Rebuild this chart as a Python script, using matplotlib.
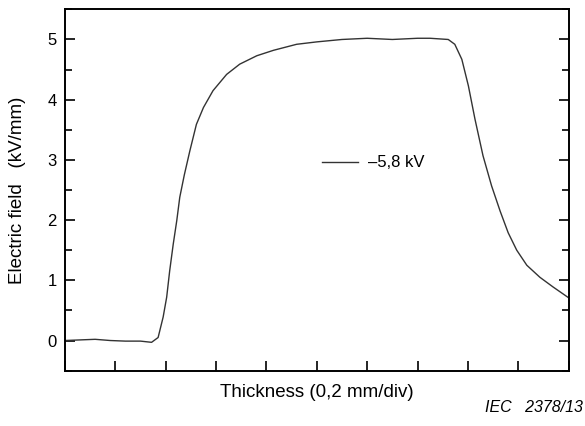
"""
Electric field profile across sample thickness
"""
import matplotlib
matplotlib.use("Agg")
import matplotlib.pyplot as plt
from matplotlib.ticker import MultipleLocator, NullFormatter

plt.rcParams['font.family'] = ['Liberation Sans', 'DejaVu Sans']

# thickness in divisions (0,2 mm/div)
thickness = [0, 0.3, 0.6, 0.9, 1.2, 1.5, 1.72, 1.85, 1.95, 2.02, 2.08, 2.15,
             2.22, 2.28, 2.37, 2.48, 2.61, 2.75, 2.94, 3.21, 3.47, 3.81, 4.14,
             4.6, 5.0, 5.5, 6.0, 6.5, 7.0, 7.25, 7.61, 7.74, 7.88, 8.01, 8.14,
             8.30, 8.47, 8.64, 8.80, 8.97, 9.17, 9.43, 9.69, 10.0]
# electric field (kV/mm)
field = [0.0, 0.01, 0.02, 0.0, -0.01, -0.01, -0.03, 0.05, 0.39, 0.72, 1.16,
         1.60, 1.99, 2.38, 2.75, 3.15, 3.59, 3.87, 4.15, 4.42, 4.59, 4.73,
         4.82, 4.92, 4.96, 5.0, 5.02, 5.0, 5.02, 5.02, 5.00, 4.92, 4.67, 4.23,
         3.68, 3.07, 2.57, 2.15, 1.79, 1.50, 1.25, 1.05, 0.89, 0.71]
series_label = '\u20135,8 kV'

fig = plt.figure(figsize=(5.85, 4.26), dpi=100)
ax = fig.add_axes([0.111, 0.130, 0.861, 0.848])

ax.plot(thickness, field, color='#333333', lw=1.0, label=series_label)

ax.set_xlim(0, 10)
ax.set_ylim(-0.5, 5.5)

# ticks
ax.xaxis.set_major_locator(MultipleLocator(1))
ax.xaxis.set_major_formatter(NullFormatter())
ax.yaxis.set_major_locator(MultipleLocator(1))
ax.yaxis.set_minor_locator(MultipleLocator(0.5))
ax.tick_params(axis='x', which='both', direction='in', length=7, width=1.2,
               bottom=True, top=False)
ax.tick_params(axis='y', which='major', direction='in', length=7, width=1.2,
               left=True, right=True, labelsize=12, pad=6)
ax.tick_params(axis='y', which='minor', direction='in', length=5, width=1.2,
               left=True, right=True)
for s in ax.spines.values():
    s.set_linewidth(1.4)

ax.set_xlabel('Thickness (0,2 mm/div)', fontsize=13.5, labelpad=6)
ax.set_ylabel('Electric field   (kV/mm)', fontsize=13.5, labelpad=15)

ax.legend(loc='center left', bbox_to_anchor=(0.48, 0.575), frameon=False,
          fontsize=12, handlelength=2.2, handletextpad=0.6)

fig.text(0.996, 0.043, 'IEC   2378/13', fontsize=11.5, style='italic',
         ha='right', va='center')

plt.savefig('out.png', dpi=100)
plt.close()
